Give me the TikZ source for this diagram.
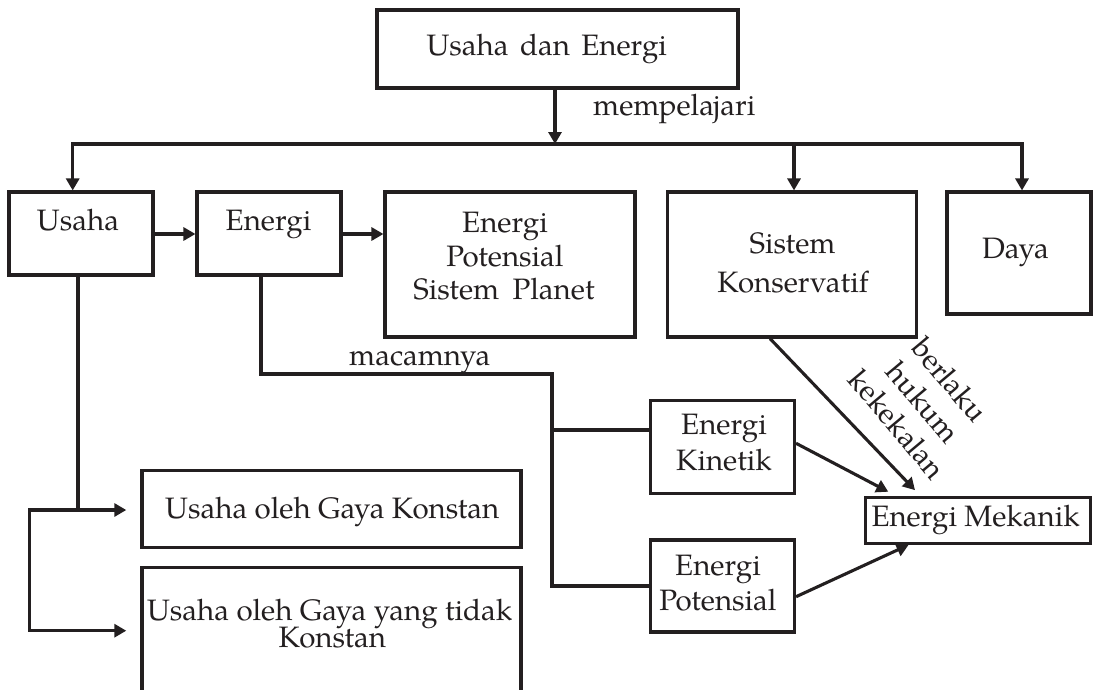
\documentclass[tikz,border=0pt]{standalone}
\usepackage{fontspec}
\setmainfont{TeX Gyre Pagella}
\usetikzlibrary{arrows.meta}
\definecolor{ink}{RGB}{35,31,32}
\begin{document}
\begin{tikzpicture}[x=1pt,y=-1pt,
  box/.style={draw=ink, line width=3.1pt, inner sep=0pt, rectangle},
  lbl/.style={anchor=base, inner sep=0pt, text=ink, font=\fontsize{29.5}{34.3}\selectfont},
  arr/.style={draw=ink, line width=3.1pt, -{Triangle[length=12pt,width=13pt]}},
  arrb/.style={draw=ink, line width=3.1pt, {Triangle[length=12pt,width=13pt]}-{Triangle[length=12pt,width=13pt]}},
  ln/.style={draw=ink, line width=3.1pt},
]
\useasboundingbox (0,0) rectangle (1093,689);
\clip (0,0) rectangle (1093,689);
\fill[white] (0,0) rectangle (1093,689);

% boxes
\node[box, minimum width=361pt, minimum height=78pt] (ue) at (557.5,49) {};
\node[box, minimum width=144pt, minimum height=83pt] (us) at (81,233.5) {};
\node[box, minimum width=144pt, minimum height=83pt] (en) at (269,233.5) {};
\node[box, minimum width=250pt, minimum height=145pt] (epsp) at (510,264.5) {};
\node[box, minimum width=249pt, minimum height=145pt] (sk) at (792.4,264.5) {};
\node[box, minimum width=144pt, minimum height=122pt] (da) at (1019,253) {};
\node[box, minimum width=144pt, minimum height=92.6pt] (kin) at (722.5,447) {};
\node[box, minimum width=144pt, minimum height=92pt] (pot) at (722.5,586) {};
\node[box, minimum width=225pt, minimum height=46pt] (em) at (977.8,520.3) {};
\node[box, minimum width=379pt, minimum height=77pt] (ugk) at (331.5,508.7) {};
\node[box, minimum width=379pt, minimum height=153pt] (ugtk) at (331.5,643.8) {};

% texts
\node[lbl] (tue) at (546.7,55) {Usaha\hspace{4pt} dan\hspace{4pt} Energi};
\node[lbl, anchor=base west] (tmp) at (593,115) {mempelajari};
\node[lbl] (tus) at (78,230) {Usaha};
\node[lbl] (ten) at (268.5,230) {Energi};
\node[lbl] (tp1) at (505,232) {Energi};
\node[lbl] (tp2) at (505,266) {Potensial};
\node[lbl] (tp3) at (504,299) {Sistem\hspace{6pt} Planet};
\node[lbl] (ts1) at (792.5,253) {Sistem};
\node[lbl] (ts2) at (793,292) {Konservatif};
\node[lbl] (tda) at (1015.5,258) {Daya};
\node[lbl, anchor=base west] (tmc) at (349,365) {macamnya};
\node[lbl] (tk1) at (724,434) {Energi};
\node[lbl] (tk2) at (724,470) {Kinetik};
\node[lbl] (tq1) at (718,575) {Energi};
\node[lbl] (tq2) at (718,610) {Potensial};
\node[lbl] (tem) at (975.6,526) {Energi Mekanik};
\node[lbl] (tg1) at (332.3,518.3) {Usaha oleh Gaya Konstan};
\node[lbl] (tg2) at (329.7,620) {Usaha oleh Gaya yang tidak};
\node[lbl] (tg3) at (332.4,647) {Konstan};
\node[lbl, anchor=center, align=center, rotate=-50] (tbh) at (923.5,402) {berlaku\\hukum\\kekekalan};

% top connectors
\coordinate (bus) at (555,144);
\coordinate (busL) at (72.7,144);
\coordinate (busR) at (1022,144);
\coordinate (busS) at (794,144);
\draw[arr] (ue.south -| bus) -- (bus);
\draw[arr] (bus) -- (busL) -- (busL |- us.north);
\draw[arr] (bus) -- (busR) -- (busR |- da.north);
\draw[arr] (busS) -- (busS |- sk.north);

% horizontal arrows
\draw[arr] (us.east |- 0,234) -- (en.west |- 0,234);
\draw[arr] (en.east |- 0,234) -- (epsp.west |- 0,234);

% Energi branch
\coordinate (m1) at (261,374);
\coordinate (m2) at (552,374);
\coordinate (jK) at (552,430);
\draw[ln] (en.south -| m1) -- (m1) -- (m2) -- (m2 |- pot.west) -- (pot.west);
\draw[ln] (jK) -- (jK -| kin.west);

% Usaha branch
\coordinate (u1) at (78,510);
\coordinate (u2) at (29.8,510);
\coordinate (u3) at (29.8,630.7);
\coordinate (g1) at (126.3,510);
\coordinate (g2) at (126.3,630.7);
\draw[ln] (us.south -| u1) -- (u1);
\draw[arrb] (g1) -- (u2) -- (u3) -- (g2);

% to Energi Mekanik
\draw[arr] ([yshift=3.7pt]kin.east) -- ([xshift=-89.5pt,yshift=4pt]em.north);
\draw[arr] ([xshift=-22.4pt]sk.south) -- ([xshift=-62.8pt,yshift=5.6pt]em.north);
\draw[arr] ([yshift=-10.7pt]pot.east) -- ([xshift=-69.2pt]em.south);
\end{tikzpicture}
\end{document}
